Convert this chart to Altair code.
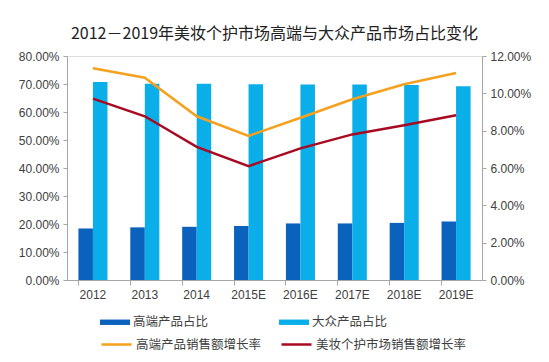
import altair as alt
import pandas as pd

years = ["2012", "2013", "2014", "2015E", "2016E", "2017E", "2018E", "2019E"]
high_share = [0.184, 0.188, 0.190, 0.193, 0.202, 0.202, 0.204, 0.209]
mass_share = [0.707, 0.701, 0.701, 0.699, 0.698, 0.698, 0.696, 0.692]
high_growth = [0.1134, 0.1084, 0.0877, 0.0772, 0.0869, 0.0968, 0.1049, 0.1109]
market_growth = [0.0972, 0.0877, 0.0713, 0.0610, 0.0705, 0.0780, 0.0829, 0.0883]

bar_names = ["高端产品占比", "大众产品占比"]
line_names = ["高端产品销售额增长率", "美妆个护市场销售额增长率"]
bar_colors = ["#0a62bd", "#0aaee8"]
line_colors = ["#f5a01e", "#a80a22"]

bars = pd.DataFrame({
    "year": years * 2,
    "series": [bar_names[0]] * len(years) + [bar_names[1]] * len(years),
    "value": high_share + mass_share,
})
lines = pd.DataFrame({
    "year": years * 2,
    "series": [line_names[0]] * len(years) + [line_names[1]] * len(years),
    "value": high_growth + market_growth,
})

font = "Liberation Sans, Noto Sans CJK SC"
x = alt.X(
    "year:N", sort=years, title=None,
    scale=alt.Scale(paddingInner=0.44, paddingOuter=0.22),
    axis=alt.Axis(labelAngle=0, bandPosition=0, tickSize=5, labelPadding=4,
                  domainColor="#a6a6a6", tickColor="#a6a6a6",
                  labelColor="#404040", labelFontSize=12, labelFont=font),
)

bar_layer = alt.Chart(bars).mark_bar().encode(
    x=x,
    xOffset=alt.XOffset("series:N", sort=bar_names),
    y=alt.Y("value:Q", title=None,
            scale=alt.Scale(domain=[0, 0.8]),
            axis=alt.Axis(format=".2%", values=[i / 10 for i in range(9)],
                          grid=False, tickSize=4, labelPadding=4,
                          domainColor="#a6a6a6", tickColor="#a6a6a6",
                          labelColor="#404040", labelFontSize=12, labelFont=font)),
    color=alt.Color("series:N", sort=bar_names,
                    scale=alt.Scale(domain=bar_names, range=bar_colors),
                    legend=alt.Legend(title=None, orient="none", legendX=33, legendY=251,
                                      direction="horizontal", columns=2, columnPadding=70,
                                      symbolType="M-1,-0.18H1V0.18H-1Z", symbolSize=900,
                                      symbolStrokeWidth=0, labelFontSize=12.5,
                                      labelFont="Noto Sans CJK SC", labelColor="#404040",
                                      labelOffset=3)),
)

line_layer = alt.Chart(lines).mark_line(strokeWidth=2.5).encode(
    x=x,
    y=alt.Y("value:Q", title=None,
            scale=alt.Scale(domain=[0, 0.12]),
            axis=alt.Axis(orient="right", format=".2%",
                          values=[i / 100 for i in range(0, 13, 2)],
                          grid=False, tickSize=4, labelPadding=4,
                          domainColor="#a6a6a6", tickColor="#a6a6a6",
                          labelColor="#404040", labelFontSize=12, labelFont=font)),
    stroke=alt.Stroke("series:N", sort=line_names,
                      scale=alt.Scale(domain=line_names, range=line_colors),
                      legend=alt.Legend(title=None, orient="none", legendX=33, legendY=272,
                                        direction="horizontal", columns=2, columnPadding=14,
                                        symbolType="stroke", symbolSize=900,
                                        symbolStrokeWidth=2.5, labelFontSize=12.5,
                                        labelFont="Noto Sans CJK SC", labelColor="#404040",
                                        labelOffset=3)),
)

chart = alt.layer(bar_layer, line_layer).resolve_scale(
    y="independent", color="independent"
).properties(
    width=415,
    height=224,
    title=alt.TitleParams(
        "2012－2019年美妆个护市场高端与大众产品市场占比变化",
        fontSize=16, font="Noto Sans CJK SC", fontWeight="normal",
        color="#222222", anchor="middle", offset=5, dy=-3,
    ),
    autosize=alt.AutoSizeParams(type="none"),
    padding={"left": 59, "top": 48, "right": 55, "bottom": 72},
).configure_view(stroke=None).configure(background="white")

chart.save("out.html", embed_options={"renderer": "svg", "actions": False})
